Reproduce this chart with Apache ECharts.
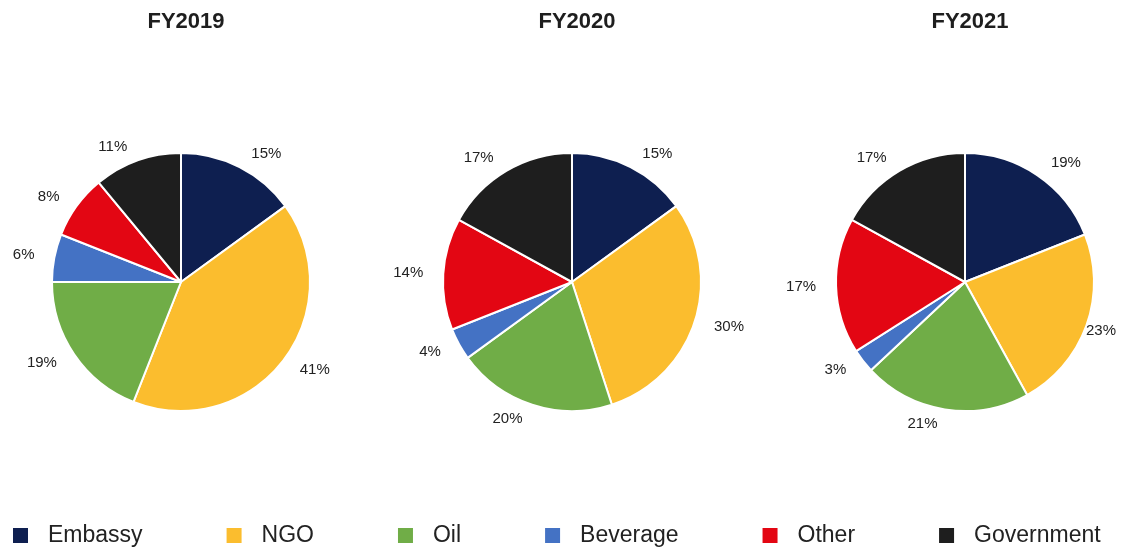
<!DOCTYPE html>
<html>
<head>
<meta charset="utf-8">
<title>Revenue mix by sector</title>
<script src="https://cdn.jsdelivr.net/npm/echarts@6/dist/echarts.min.js"></script>
<style>
  html, body { margin: 0; padding: 0; background: #ffffff; }
  #chart { width: 1128px; height: 550px; }
</style>
</head>
<body>
<div id="chart"></div>
<script>
// categories and shares (%) per year
const sectors = ["Embassy", "NGO", "Oil", "Beverage", "Other", "Government"];
const colors = ["#0e1f50", "#fbbd2e", "#70ad47", "#4472c4", "#e30613", "#1e1e1e"];
const years = ["FY2019", "FY2020", "FY2021"];
const fy2019 = [15, 41, 19, 6, 8, 11];
const fy2020 = [15, 30, 20, 4, 14, 17];
const fy2021 = [19, 23, 21, 3, 17, 17];
const yearValues = [fy2019, fy2020, fy2021];

const centersX = [181, 572, 965];//pie centres
const W = 1128;

const chart = echarts.init(document.getElementById("chart"));

function pieSeries(i) {
    return {
        name: years[i],
        type: "pie",
        center: [centersX[i], 282],
        radius: 129,
        startAngle: 90,
        clockwise: true,
        avoidLabelOverlap: false,
        animation: false,
        itemStyle: { borderColor: "#ffffff", borderWidth: 2 },
        label: {
            show: true,
            position: "outside",
            formatter: "{c}%",
            fontFamily: "Liberation Sans, Arial, sans-serif",
            fontSize: 15,
            color: "#222222"
        },
        labelLine: { show: false, length: 15, length2: 0 },
        // keep labels inside the canvas on the right edge
        labelLayout: function (p) {
            const r = p.labelRect;
            if (r.x + r.width > W - 12) {
                return { x: W - 12, align: "right" };
            }
            return {};
        },
        emphasis: { disabled: true },
        data: sectors.map((s, k) => ({ name: s, value: yearValues[i][k] }))
    };
}

const option = {
    color: colors,
    title: years.map((y, i) => ({
        text: y,
        left: centersX[i],
        top: 6,
        textAlign: "center",
        textStyle: {
            fontFamily: "Liberation Sans, Arial, sans-serif",
            fontSize: 22,
            fontWeight: "bold",
            color: "#1e1e1e"
        }
    })),
    legend: {
        data: sectors,
        left: 6,
        top: 519,
        icon: "rect",
        itemWidth: 17,
        itemHeight: 17,
        itemGap: 82,
        selectedMode: false,
        textStyle: {
            fontFamily: "Liberation Sans, Arial, sans-serif",
            fontSize: 23,
            color: "#222222",
            padding: [0, 0, 0, 14]
        }
    },
    series: [pieSeries(0), pieSeries(1), pieSeries(2)]
};

chart.setOption(option);
</script>
</body>
</html>
